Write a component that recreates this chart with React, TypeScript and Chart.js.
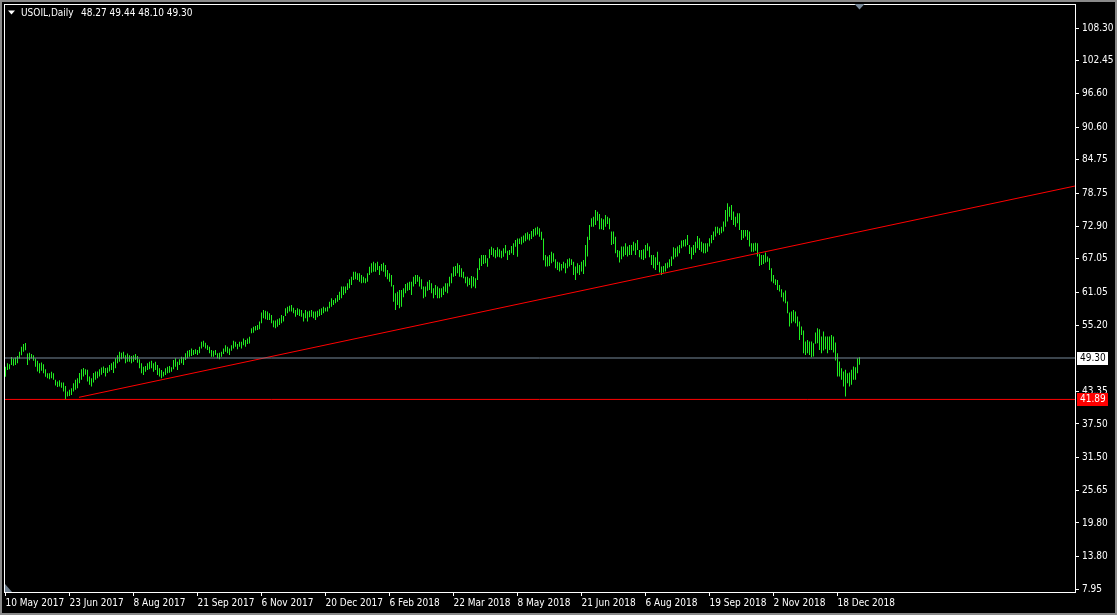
import { useEffect, useRef } from 'react';
import { Chart, registerables } from 'chart.js';

Chart.register(...registerables);

const SYMBOL = 'USOIL,Daily';
const LAST_OHLC = [48.27, 49.44, 48.1, 49.3];

const DATE_LABELS = [
  '10 May 2017', '23 Jun 2017', '8 Aug 2017', '21 Sep 2017', '6 Nov 2017', '20 Dec 2017', '6 Feb 2018',
  '22 Mar 2018', '8 May 2018', '21 Jun 2018', '6 Aug 2018', '19 Sep 2018', '2 Nov 2018', '18 Dec 2018',
];
const DATE_LABEL_INDEX = [0, 32, 64, 96, 128, 160, 192, 224, 256, 288, 320, 352, 384, 416];

const Y_TICKS = [108.3, 102.45, 96.6, 90.6, 84.75, 78.75, 72.9, 67.05, 61.05, 55.2, 43.35, 37.5, 31.5, 25.65, 19.8, 13.8, 7.95];

const BID = 49.3;
const LEVEL = 41.89;
const TREND_X = [36.75, 534.75];
const TREND_Y = [42.27, 80.07];

const HIGH = [
  47.75, 48.35, 48.2, 49.5, 49.2, 49.4, 49.66, 50.4, 51.3, 51.8,
  52.0, 50.1, 50.25, 50.0, 49.8, 49.2, 48.8, 48.35, 48.5, 48.2,
  47.3, 46.56, 46.56, 46.86, 46.56, 45.4, 45.1, 45.3, 44.9, 44.9,
  44.3, 43.3, 43.6, 43.9, 44.8, 45.4, 45.7, 46.6, 47.3, 47.5,
  47.3, 47.2, 46.0, 45.7, 46.6, 46.9, 46.9, 47.3, 47.6, 47.8,
  47.5, 47.6, 48.05, 48.35, 48.65, 49.25, 49.8, 50.4, 50.26, 50.4,
  49.8, 50.1, 49.8, 49.66, 49.8, 50.0, 49.66, 49.07, 48.35, 47.75,
  47.87, 48.35, 48.65, 48.83, 48.35, 48.65, 48.05, 47.46, 47.16, 46.86,
  47.46, 47.75, 47.87, 47.63, 48.95, 49.25, 48.65, 49.07, 49.54, 49.42,
  50.14, 50.6, 50.73, 51.0, 50.73, 50.85, 50.73, 51.3, 52.2, 52.4,
  52.05, 51.6, 51.3, 50.73, 50.6, 50.73, 50.14, 50.26, 50.44, 51.0,
  51.6, 51.3, 51.0, 51.6, 52.4, 52.2, 51.8, 52.2, 52.2, 52.8,
  52.5, 52.8, 53.1, 54.62, 54.91, 55.03, 55.21, 55.81, 57.42, 57.89,
  57.77, 57.6, 57.3, 57.0, 55.99, 55.99, 56.22, 56.4, 57.0, 56.82,
  58.19, 58.49, 58.67, 58.79, 58.31, 57.89, 58.19, 58.01, 57.89, 57.3,
  57.89, 57.6, 57.77, 57.89, 57.6, 57.6, 57.77, 58.01, 58.19, 58.49,
  58.31, 58.49, 59.38, 59.98, 59.68, 59.98, 60.58, 61.17, 62.07, 62.07,
  62.07, 62.66, 63.38, 63.85, 64.75, 64.75, 64.45, 64.45, 64.15, 63.85,
  63.56, 64.45, 65.64, 66.24, 66.54, 66.24, 66.54, 65.76, 66.12, 66.36,
  65.94, 65.05, 64.45, 64.15, 62.36, 60.87, 61.17, 61.47, 61.47, 61.77,
  62.54, 62.78, 62.96, 62.96, 63.85, 64.15, 64.15, 63.85, 63.38, 62.07,
  62.07, 62.96, 63.26, 62.66, 61.77, 62.36, 62.07, 61.77, 61.77, 62.07,
  62.66, 62.66, 63.85, 64.45, 65.64, 65.76, 66.24, 65.94, 65.34, 64.75,
  63.85, 63.85, 63.56, 63.97, 63.85, 63.56, 65.34, 67.13, 67.73, 67.73,
  67.73, 67.13, 68.74, 69.22, 68.92, 68.62, 69.1, 68.74, 68.5, 68.92,
  69.52, 68.5, 68.62, 69.34, 69.81, 70.41, 70.7, 70.7, 71.0, 71.2,
  71.6, 71.8, 71.5, 72.0, 72.4, 72.6, 72.8, 72.5, 71.9, 70.7,
  67.74, 67.44, 67.74, 68.33, 68.03, 66.96, 66.54, 66.37, 66.13, 66.54,
  66.25, 66.96, 67.14, 66.96, 66.54, 65.65, 66.25, 65.95, 66.54, 66.84,
  69.52, 71.01, 73.1, 74.29, 74.59, 75.78, 75.48, 75.07, 74.29, 74.11,
  74.89, 74.59, 74.29, 71.91, 71.91, 71.01, 68.63, 68.51, 69.23, 69.23,
  69.82, 69.23, 69.52, 69.52, 70.12, 69.82, 70.42, 68.63, 68.63, 68.75,
  69.52, 69.82, 69.23, 67.74, 67.74, 67.32, 68.33, 66.54, 65.65, 65.77,
  66.25, 66.37, 66.96, 67.44, 69.11, 68.93, 69.23, 69.52, 70.3, 70.42,
  70.54, 71.31, 69.52, 69.11, 69.52, 70.12, 71.13, 70.72, 70.12, 69.82,
  69.82, 69.82, 70.72, 71.31, 71.91, 72.8, 72.8, 72.5, 72.8, 73.7,
  75.78, 76.97, 76.38, 76.68, 75.49, 74.59, 75.19, 75.19, 72.21, 72.21,
  72.21, 72.21, 71.91, 69.82, 69.82, 69.94, 69.82, 67.92, 67.74, 67.74,
  68.16, 67.44, 67.14, 65.35, 64.16, 63.39, 63.27, 62.37, 61.6, 61.0,
  61.36, 59.39, 57.43, 57.61, 57.9, 57.61, 56.71, 55.82, 54.92, 54.21,
  52.24, 52.54, 52.24, 52.24, 51.94, 53.85, 54.63, 54.45, 53.14, 54.03,
  53.14, 53.14, 53.14, 53.43, 53.14, 52.06, 50.16, 48.67, 47.48, 46.88,
  47.18, 46.58, 46.7, 47.18, 47.77, 47.65, 49.26, 49.44,
];

const LOW = [
  45.96, 47.16, 47.3, 48.05, 47.9, 48.05, 48.35, 49.2, 49.8, 50.4,
  50.7, 48.05, 48.9, 49.2, 48.8, 47.75, 46.9, 46.56, 47.0, 46.56,
  45.96, 45.67, 45.49, 45.67, 45.4, 44.4, 44.1, 44.2, 44.0, 43.3,
  41.89, 42.4, 42.5, 42.7, 43.3, 43.6, 43.9, 44.8, 45.4, 46.0,
  46.3, 45.1, 44.5, 44.2, 44.9, 45.4, 45.7, 46.0, 46.3, 46.6,
  46.0, 46.6, 46.9, 47.16, 46.6, 47.46, 48.35, 48.65, 49.07, 49.25,
  48.35, 48.65, 48.65, 48.35, 48.65, 48.95, 48.47, 47.46, 46.56, 46.26,
  46.86, 47.16, 47.28, 47.46, 46.86, 47.16, 46.26, 45.97, 45.67, 45.97,
  46.26, 46.56, 46.68, 46.86, 47.28, 47.75, 47.16, 48.05, 48.35, 48.05,
  48.95, 49.25, 49.54, 49.66, 49.84, 50.0, 49.84, 50.14, 51.0, 51.3,
  51.0, 50.73, 50.14, 49.54, 49.54, 49.84, 49.25, 49.07, 49.54, 50.0,
  50.44, 50.14, 49.84, 50.6, 51.0, 51.3, 50.85, 51.3, 51.0, 51.6,
  51.3, 51.8, 51.9, 53.72, 53.84, 54.2, 54.32, 54.44, 55.51, 56.4,
  56.22, 56.11, 56.11, 55.51, 54.8, 54.62, 54.91, 55.21, 55.51, 55.81,
  56.82, 57.3, 57.6, 57.6, 57.3, 56.7, 57.0, 56.82, 56.7, 55.81,
  56.4, 55.81, 56.58, 56.7, 56.4, 56.11, 56.58, 56.82, 57.0, 57.3,
  57.6, 57.6, 58.19, 58.49, 58.79, 59.09, 59.38, 59.68, 59.98, 60.58,
  60.87, 61.47, 61.77, 62.36, 63.26, 63.38, 63.26, 62.96, 62.66, 62.78,
  62.66, 62.96, 64.15, 64.57, 64.75, 64.75, 65.05, 64.15, 64.93, 64.75,
  63.85, 63.38, 62.96, 62.07, 59.38, 57.89, 58.79, 58.19, 58.49, 60.16,
  60.87, 61.35, 61.47, 60.58, 62.07, 62.54, 62.96, 62.07, 61.59, 59.98,
  60.28, 61.35, 61.47, 60.87, 59.98, 60.58, 59.98, 59.98, 60.16, 60.58,
  61.17, 60.87, 62.07, 62.66, 63.85, 63.97, 64.45, 63.85, 63.73, 63.56,
  62.66, 62.07, 62.36, 61.77, 62.07, 61.77, 63.26, 65.05, 65.76, 66.12,
  66.24, 65.64, 67.13, 67.73, 67.43, 67.13, 67.43, 67.31, 67.13, 67.43,
  68.03, 66.83, 67.73, 68.03, 67.73, 69.22, 67.43, 69.7, 69.6, 69.9,
  70.2, 70.5, 70.3, 70.6, 71.0, 71.2, 71.4, 71.0, 70.4, 66.8,
  65.65, 65.65, 65.77, 66.25, 66.54, 65.35, 65.05, 64.76, 64.94, 65.35,
  64.46, 65.35, 65.65, 65.95, 64.16, 63.27, 64.46, 64.16, 64.76, 64.34,
  65.65, 67.44, 70.42, 72.8, 72.8, 73.1, 73.87, 72.33, 72.33, 72.21,
  72.8, 73.28, 72.33, 69.52, 69.7, 68.03, 67.32, 66.37, 66.96, 67.44,
  67.74, 67.44, 67.74, 67.74, 68.51, 67.74, 68.63, 67.32, 66.96, 66.84,
  67.14, 68.51, 67.32, 65.95, 65.35, 65.05, 65.95, 64.58, 64.16, 64.58,
  64.76, 65.35, 65.53, 65.77, 66.96, 67.32, 67.44, 68.03, 68.93, 69.23,
  69.23, 69.52, 67.91, 66.96, 67.74, 68.15, 68.93, 68.63, 68.33, 68.04,
  68.04, 68.33, 69.23, 69.82, 70.42, 71.02, 71.61, 71.31, 71.61, 71.91,
  72.8, 73.7, 74.59, 74.0, 73.1, 72.8, 73.4, 72.21, 70.42, 70.72,
  71.02, 70.42, 69.23, 68.33, 68.33, 68.51, 67.44, 65.77, 65.95, 66.13,
  66.37, 66.54, 65.06, 62.97, 62.67, 62.37, 61.48, 61.18, 60.17, 59.39,
  59.1, 57.31, 54.92, 55.52, 55.82, 55.52, 54.92, 52.54, 53.43, 50.16,
  49.86, 50.16, 49.86, 49.44, 49.56, 51.83, 51.94, 50.75, 50.16, 50.63,
  50.87, 50.16, 50.75, 50.75, 50.28, 48.84, 45.98, 45.98, 45.39, 44.2,
  42.41, 44.79, 44.2, 44.5, 45.39, 45.39, 46.58, 48.1,
];

const FONT = "'DejaVu Sans Condensed', 'Liberation Sans', sans-serif";
const FONT_SIZE = 10;
const BAR_COLOR = '#20ee20';
const BID_COLOR = '#778899';

const mt4Plugin = {
  id: 'mt4Frame',
  beforeDraw(chart: any) {
    const { ctx, width, height } = chart;
    ctx.save();
    ctx.fillStyle = '#000000';
    ctx.fillRect(0, 0, width, height);
    ctx.restore();
  },
  afterDraw(chart: any) {
    const { ctx, chartArea: a, scales, width, height } = chart;
    const ys = scales.y;
    ctx.save();
    // plot frame
    ctx.strokeStyle = '#ffffff';
    ctx.lineWidth = 1;
    ctx.strokeRect(a.left + 0.5, a.top + 0.5, a.right - a.left, a.bottom - a.top);
    // window border
    ctx.fillStyle = '#8a8a8a';
    ctx.fillRect(0, 0, width, 2);
    ctx.fillRect(0, 0, 2, height);
    ctx.fillRect(width - 2, 0, 2, height);
    ctx.fillRect(0, height - 2, width, 2);
    // title
    ctx.fillStyle = '#ffffff';
    ctx.beginPath();
    ctx.moveTo(8, 10.5);
    ctx.lineTo(15, 10.5);
    ctx.lineTo(11.5, 14.5);
    ctx.closePath();
    ctx.fill();
    ctx.font = `${FONT_SIZE}px ${FONT}`;
    ctx.textBaseline = 'middle';
    ctx.textAlign = 'left';
    ctx.fillText(SYMBOL, 21, 13);
    ctx.fillText(LAST_OHLC.map((v) => v.toFixed(2)).join(' '), 81, 13);
    // price boxes
    const box = (val: number, bg: string, fg: string) => {
      const py = Math.round(ys.getPixelForValue(val));
      ctx.fillStyle = bg;
      ctx.fillRect(a.right + 2, py - 6, 31, 13);
      ctx.fillStyle = fg;
      ctx.fillText(val.toFixed(2), a.right + 5, py + 0.5);
    };
    box(BID, '#ffffff', '#000000');
    box(LEVEL, '#ff0000', '#ffffff');
    // chart shift marker (top)
    const sx = scales.x.getPixelForValue(HIGH.length - 1);
    ctx.fillStyle = BID_COLOR;
    ctx.beginPath();
    ctx.moveTo(sx - 5, a.top);
    ctx.lineTo(sx + 5, a.top);
    ctx.lineTo(sx, a.top + 5.5);
    ctx.closePath();
    ctx.fill();
    // bottom-left marker
    ctx.fillStyle = '#708090';
    ctx.beginPath();
    ctx.moveTo(a.left + 1, a.bottom - 8);
    ctx.lineTo(a.left + 1, a.bottom);
    ctx.lineTo(a.left + 8, a.bottom);
    ctx.closePath();
    ctx.fill();
    ctx.restore();
  },
};

export default function App() {
  const ref = useRef<HTMLCanvasElement>(null);
  useEffect(() => {
    document.body.style.margin = '0';
    document.body.style.background = '#000000';
    const bars = HIGH.map((h, i) => ({ x: i, y: [LOW[i], h] }));
    const xMin = -0.75;
    const xMax = 534.75;
    const chart = new Chart(ref.current as HTMLCanvasElement, {
      type: 'bar',
      data: {
        datasets: [
          {
            type: 'line',
            data: [{ x: xMin, y: BID }, { x: xMax, y: BID }],
            borderColor: BID_COLOR,
            borderWidth: 1,
            pointRadius: 0,
            order: 0,
          } as any,
          {
            type: 'line',
            data: [{ x: xMin, y: LEVEL }, { x: xMax, y: LEVEL }],
            borderColor: '#ff0000',
            borderWidth: 1,
            pointRadius: 0,
            order: 0,
          } as any,
          {
            type: 'line',
            data: [{ x: TREND_X[0], y: TREND_Y[0] }, { x: TREND_X[1], y: TREND_Y[1] }],
            borderColor: '#ff0000',
            borderWidth: 1,
            pointRadius: 0,
            order: 0,
          } as any,
          {
            type: 'bar',
            data: bars as any,
            backgroundColor: BAR_COLOR,
            borderWidth: 0,
            barThickness: 1,
            inflateAmount: 0,
            grouped: false,
            order: 1,
          } as any,
        ],
      },
      options: {
        animation: false,
        responsive: false,
        devicePixelRatio: 1,
        layout: { padding: { left: 4, top: 4, right: 0, bottom: 0 } },
        plugins: { legend: { display: false }, tooltip: { enabled: false } },
        scales: {
          x: {
            type: 'linear',
            min: xMin,
            max: xMax,
            offset: false,
            grid: { offset: false, drawOnChartArea: false, drawTicks: true, tickLength: 4, color: '#ffffff' },
            border: { display: false },
            ticks: {
              autoSkip: false,
              maxRotation: 0,
              minRotation: 0,
              align: 'start',
              padding: 1,
              color: '#ffffff',
              font: { family: FONT, size: FONT_SIZE },
              callback: (v: any) => {
                const k = DATE_LABEL_INDEX.indexOf(Number(v));
                return k >= 0 ? DATE_LABELS[k] : '';
              },
            },
            afterBuildTicks: (s: any) => {
              s.ticks = DATE_LABEL_INDEX.map((v) => ({ value: v }));
            },
            afterFit: (s: any) => {
              s.height = 23;
              s.paddingLeft = 0;
              s.paddingRight = 0;
            },
          },
          y: {
            type: 'linear',
            position: 'right',
            min: 7.44,
            max: 112.63,
            grid: { drawOnChartArea: false, drawTicks: true, tickLength: 4, color: '#ffffff' },
            border: { display: false },
            ticks: {
              autoSkip: false,
              padding: 3,
              color: '#ffffff',
              font: { family: FONT, size: FONT_SIZE },
              callback: (v: any) => Number(v).toFixed(2),
            },
            afterBuildTicks: (s: any) => {
              s.ticks = Y_TICKS.map((v) => ({ value: v }));
            },
            afterFit: (s: any) => {
              s.width = 42;
              s.paddingTop = 0;
              s.paddingBottom = 0;
            },
          },
        },
      } as any,
      plugins: [mt4Plugin],
    });
    return () => chart.destroy();
  }, []);
  return (
    <div style={{ width: 1117, height: 615, background: '#000000' }}>
      <canvas ref={ref} width={1117} height={615} style={{ display: 'block', width: 1117, height: 615 }} />
    </div>
  );
}
